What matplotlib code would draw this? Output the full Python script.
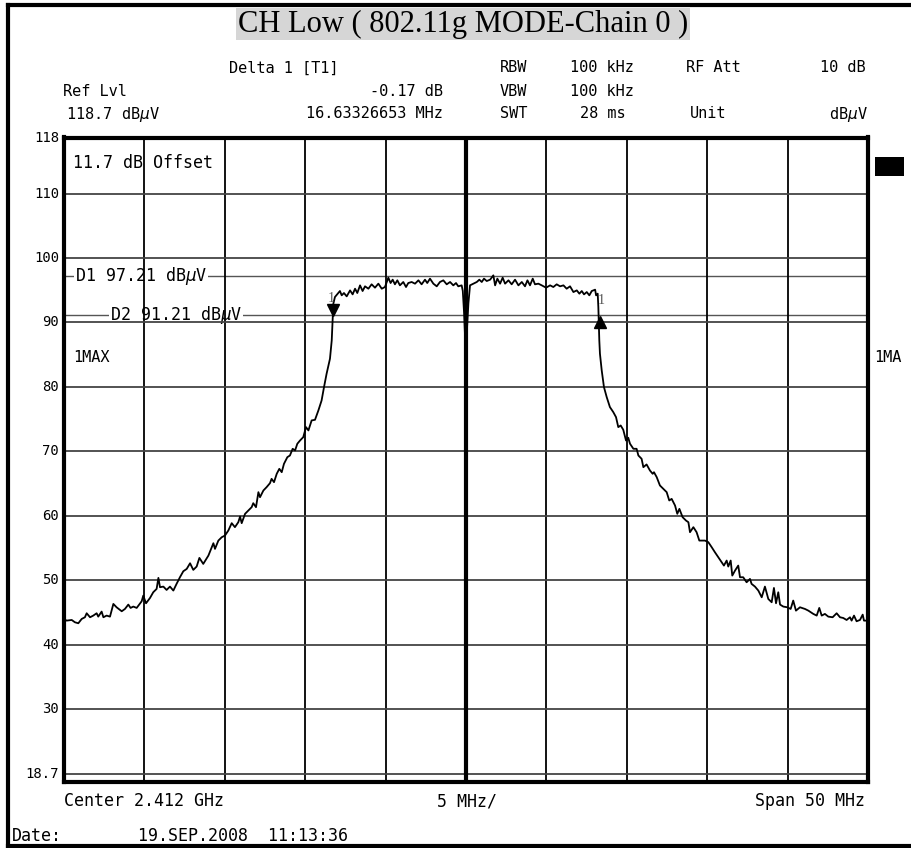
import numpy as np
import matplotlib.pyplot as plt
from matplotlib.lines import Line2D
from matplotlib.patches import Rectangle
import matplotlib.transforms as mtransforms

# trace (offset from 2.412 GHz, MHz / dBuV)
freq_mhz = [
    -25.00, -24.84, -24.52, -24.32, -24.11, -23.90, -23.70, -23.59, -23.38, -23.18,
    -22.97, -22.87, -22.66, -22.55, -22.35, -22.14, -21.93, -21.73, -21.41, -21.21,
    -21.00, -20.86, -20.69, -20.48, -20.17, -20.07, -19.90, -19.65, -19.45, -19.24,
    -19.13, -19.03, -18.82, -18.62, -18.41, -18.20, -18.00, -17.79, -17.58, -17.37,
    -17.16, -16.96, -16.75, -16.58, -16.34, -16.02,
    -15.71, -15.61, -15.40, -15.19, -14.99, -14.78, -14.57, -14.37, -14.16, -14.05,
    -13.95, -13.74, -13.54, -13.33, -13.23, -13.06, -12.91, -12.81, -12.60, -12.40,
    -12.19, -12.09, -11.94, -11.77, -11.61, -11.46, -11.32, -11.11, -10.95, -10.78,
    -10.63, -10.49, -10.32, -10.12, -9.95, -9.80, -9.60, -9.39, -9.18, -8.98,
    -8.83, -8.67, -8.46, -8.35, -8.29, -8.25, -8.15,
    -7.94, -7.84, -7.73, -7.59, -7.42, -7.21, -7.05, -6.90, -6.76, -6.59,
    -6.43, -6.28, -6.07, -5.87, -5.66, -5.45, -5.24, -5.04, -4.83, -4.69,
    -4.56, -4.42, -4.27, -4.11, -3.90, -3.73, -3.59, -3.38, -3.17, -2.96,
    -2.76, -2.55, -2.41, -2.24, -2.03, -1.82, -1.62, -1.41, -1.20, -0.99,
    -0.79, -0.62, -0.48, -0.27, -0.20, -0.12, -0.05, 0.05, 0.15, 0.25,
    0.46, 0.67, 0.83, 0.98, 1.12, 1.29, 1.50, 1.70, 1.81, 1.95,
    2.12, 2.28, 2.43, 2.64, 2.84, 3.05, 3.26, 3.47, 3.67, 3.82,
    3.98, 4.15, 4.29, 4.50, 4.71, 4.98, 5.23, 5.43, 5.64, 5.85,
    6.06, 6.26, 6.47, 6.68, 6.89, 7.05, 7.20, 7.34, 7.51, 7.67,
    7.82, 8.03, 8.09, 8.19, 8.23,
    8.29, 8.33, 8.44, 8.58, 8.75, 8.95, 9.16, 9.33, 9.47, 9.62,
    9.78, 9.95, 10.09, 10.20, 10.41, 10.61, 10.72, 10.92, 11.03, 11.23,
    11.44, 11.61, 11.69, 11.86, 12.06, 12.27, 12.48, 12.64, 12.79, 13.00,
    13.14, 13.27, 13.47, 13.68, 13.83, 13.93, 14.14, 14.34, 14.51,
    14.86, 15.07, 15.28, 15.48, 15.69, 15.90, 16.04, 16.21, 16.31, 16.46,
    16.56, 16.73, 16.93, 17.04, 17.24, 17.45, 17.66, 17.76, 17.97, 18.18,
    18.39, 18.59, 18.80, 19.01, 19.15, 19.28, 19.42, 19.53, 19.73, 19.98,
    20.19, 20.35, 20.52, 20.77, 21.08, 21.29, 21.60, 21.81, 21.97, 22.12,
    22.32, 22.53, 22.80, 23.05, 23.26, 23.46, 23.67, 23.88, 23.98, 24.13,
    24.29, 24.50, 24.67, 24.75, 25.00,
]
level_db = [
    44.00, 43.74, 43.84, 43.48, 43.33, 44.00, 44.26, 44.88, 44.26, 44.52,
    44.88, 44.36, 45.14, 44.26, 44.52, 44.36, 46.33, 45.81, 45.19, 45.55,
    46.23, 45.71, 45.92, 45.71, 46.74, 47.62, 46.43, 47.26, 48.14, 48.66,
    50.37, 48.92, 49.02, 48.50, 49.02, 48.40, 49.44, 50.47, 51.40, 51.76,
    52.64, 51.61, 52.13, 53.47, 52.54, 53.83,
    55.75, 54.87, 56.16, 56.68, 56.94, 57.72, 58.86, 58.24, 59.01, 59.89,
    58.86, 60.31, 60.82, 61.34, 61.96, 61.34, 63.67, 62.89, 63.93, 64.45,
    65.07, 65.74, 65.22, 66.52, 67.29, 66.77, 68.07, 69.10, 69.36, 70.40,
    70.14, 71.18, 71.69, 72.21, 73.76, 73.25, 74.80, 74.90, 76.35, 77.90,
    79.97, 82.04, 84.37, 87.22, 90.50, 92.91, 93.95,
    94.57, 94.88, 94.21, 94.57, 94.05, 94.98, 94.36, 95.24, 94.57, 95.76,
    94.88, 95.61, 95.24, 95.92, 95.40, 96.02, 95.24, 95.50, 96.95, 96.12,
    96.64, 95.92, 96.54, 95.76, 96.28, 95.50, 96.12, 96.28, 96.02, 96.54,
    95.92, 96.64, 96.12, 96.80, 96.02, 95.61, 96.28, 96.54, 95.92, 96.28,
    95.76, 96.12, 95.61, 95.76, 94.90, 91.50, 87.30, 88.50, 93.00, 95.76,
    96.02, 96.28, 96.64, 96.28, 96.80, 96.43, 96.64, 97.31, 95.76, 96.80,
    96.02, 96.95, 96.02, 96.54, 95.92, 96.64, 95.76, 96.28, 95.61, 96.54,
    95.76, 96.80, 95.92, 96.02, 95.76, 95.40, 95.76, 95.50, 95.92, 95.61,
    95.76, 95.24, 95.61, 94.72, 94.98, 94.47, 94.88, 94.36, 94.72, 94.21,
    94.88, 95.09, 94.21, 94.47, 92.40,
    87.22, 85.15, 82.56, 79.97, 78.42, 76.87, 76.09, 75.31, 73.76, 74.02,
    73.35, 71.69, 72.11, 71.18, 70.40, 70.40, 69.36, 68.85, 67.55, 67.97,
    67.03, 66.52, 66.77, 66.00, 64.71, 64.19, 63.67, 62.38, 62.63, 61.60,
    60.31, 61.08, 59.79, 59.27, 59.01, 57.46, 58.24, 57.46, 56.16,
    56.16, 55.91, 55.13, 54.35, 53.58, 52.80, 52.28, 53.06, 52.13, 53.06,
    50.73, 51.50, 52.28, 50.47, 50.47, 49.69, 50.21, 49.44, 49.02, 48.40,
    47.36, 49.02, 47.10, 46.59, 48.81, 46.43, 48.14, 46.23, 45.92, 45.81,
    45.55, 46.85, 45.29, 45.81, 45.55, 45.29, 44.78, 44.52, 45.71, 44.52,
    44.78, 44.36, 44.26, 44.88, 44.26, 44.15, 43.84, 44.26, 43.74, 44.52,
    43.64, 43.84, 44.67, 43.74, 43.74,
]

y_grid = [20, 30, 40, 50, 60, 70, 80, 90, 100, 110]
y_labels = ['30', '40', '50', '60', '70', '80', '90', '100', '110']
display_lines = {'D1': 97.21, 'D2': 91.21}
marker_f = [-8.30, 8.33]
marker_db = [91.2, 90.9]

W, H = 911, 848
fig = plt.figure(figsize=(W / 100, H / 100), dpi=100)
fig.patch.set_facecolor('white')
mono = 'DejaVu Sans Mono'


def fx(x):
    return x / W


def fy(y):
    return 1 - y / H


# outer frame of the screenshot
for xs, ys in [([8, 8], [5, 846]), ([8, 915], [5, 5]), ([8, 915], [846, 846])]:
    fig.add_artist(Line2D([fx(v) for v in xs], [fy(v) for v in ys],
                          color='black', lw=3))

ax = fig.add_axes([fx(64), fy(782), (868 - 64) / W, (782 - 137.5) / H])
ax.set_xlim(-25, 25)
ax.set_ylim(18.7, 118.7)
ax.set_xticks(np.arange(-25, 26, 5))
ax.set_yticks(y_grid)
ax.tick_params(length=0, labelbottom=False, labelleft=False)
ax.set_axisbelow(False)
ax.xaxis.grid(True, color='black', lw=1.3)
ax.yaxis.grid(True, color='#444444', lw=1.3)
ax.axvline(0, color='black', lw=3, zorder=2.6)
for s in ax.spines.values():
    s.set_linewidth(3)
    s.set_zorder(5)

# display lines with their labels cut into them
blend = mtransforms.blended_transform_factory(ax.transAxes, ax.transData)
for (name, val), x0 in zip(display_lines.items(), [0.0137, 0.057]):
    ax.plot([0, 1], [val, val], color='#555555', lw=1, transform=blend, zorder=1)
    ax.text(x0, val, f'{name} {val:.2f} dB$\\mu$V', transform=blend, family=mono,
            fontsize=12, va='center', ha='left', zorder=1.5,
            bbox=dict(facecolor='white', edgecolor='none', pad=0.5))

ax.plot(freq_mhz, level_db, color='black', lw=1.3, zorder=3)

down = mtransforms.offset_copy(ax.transData, fig=fig, x=0, y=5, units='dots')
up = mtransforms.offset_copy(ax.transData, fig=fig, x=0, y=-5, units='dots')
ax.plot(marker_f[0], marker_db[0], 'v', color='black', ms=8, transform=down, zorder=4)
ax.plot(marker_f[1], marker_db[1], '^', color='black', ms=8, transform=up, zorder=4)

ax.text(0.011, 0.975, '11.7 dB Offset', transform=ax.transAxes, family=mono,
        fontsize=12, va='top', ha='left')
ax.text(0.011, 84.6, '1MAX', transform=blend, family=mono, fontsize=11,
        va='center', ha='left')

# y labels
for v in y_labels:
    ax.text(-0.006, float(v), v, transform=blend, family=mono, fontsize=10,
            ha='right', va='center')
ax.text(-0.006, 1.0, '118', transform=ax.transAxes, family=mono, fontsize=10,
        ha='right', va='center')
ax.text(-0.006, 0.012, '18.7', transform=ax.transAxes, family=mono, fontsize=10,
        ha='right', va='center')

# marker numbers
fig.text(fx(331), fy(298), '1', family='Liberation Serif', fontsize=10,
         color='#555555', ha='center', va='center')
fig.text(fx(601), fy(301), '1', family='Liberation Serif', fontsize=10,
         color='#555555', ha='center', va='center')

# right side
fig.add_artist(Rectangle((fx(875), fy(176)), (904 - 875) / W, (176 - 157) / H,
                         facecolor='black', edgecolor='none'))
fig.text(fx(874), fy(358), '1MA', family=mono, fontsize=11, ha='left', va='center')

# title
fig.text(fx(463), fy(24), 'CH Low ( 802.11g MODE-Chain 0 )', family='Liberation Serif',
         fontsize=22, ha='center', va='center',
         bbox=dict(facecolor='#d6d6d6', edgecolor='none', pad=1))

# header rows
hdr = [
    (229, 68, 'left', 'Delta 1 [T1]'), (500, 68, 'left', 'RBW'),
    (570, 68, 'left', '100 kHz'), (686, 68, 'left', 'RF Att'),
    (820, 68, 'left', '10 dB'),
    (63, 91, 'left', 'Ref Lvl'), (443, 91, 'right', '-0.17 dB'),
    (500, 91, 'left', 'VBW'), (570, 91, 'left', '100 kHz'),
    (66, 114, 'left', '118.7 dB$\\mu$V'), (443, 114, 'right', '16.63326653 MHz'),
    (500, 114, 'left', 'SWT'), (580, 114, 'left', '28 ms'),
    (690, 114, 'left', 'Unit'), (868, 114, 'right', 'dB$\\mu$V'),
]
for x, y, ha, s in hdr:
    fig.text(fx(x), fy(y), s, family=mono, fontsize=11, ha=ha, va='center')

# footer
fig.text(fx(64), fy(801), 'Center 2.412 GHz', family=mono, fontsize=12, va='center')
fig.text(fx(467), fy(801), '5 MHz/', family=mono, fontsize=12, va='center', ha='center')
fig.text(fx(865), fy(801), 'Span 50 MHz', family=mono, fontsize=12, va='center', ha='right')
fig.text(fx(12), fy(836), 'Date:', family=mono, fontsize=12, va='center')
fig.text(fx(138), fy(836), '19.SEP.2008  11:13:36', family=mono, fontsize=12, va='center')

fig.savefig('out.png', dpi=100)
